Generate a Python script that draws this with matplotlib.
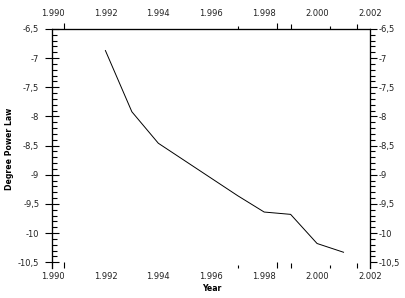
import matplotlib
matplotlib.use('Agg')
from matplotlib import pyplot as plt

# 値は画像から読み取った推定値
years = [1992, 1993, 1994, 1995, 1996, 1997, 1998, 1999, 2000, 2001]
degree = [-6.87, -7.92, -8.46, -8.76, -9.06, -9.36, -9.64, -9.68, -10.18, -10.33]

year_ticks = list(range(1990, 2003, 2))
year_labels = [f'{y:,}'.replace(',', '.') for y in year_ticks]
degree_ticks = [-6.5, -7, -7.5, -8, -8.5, -9, -9.5, -10, -10.5]
degree_labels = [f'{v:g}'.replace('.', ',') for v in degree_ticks]

# 軸上の不規則な小目盛り（位置と長さ px）
mark_pos = [1990, 1990.45, 1992, 1997, 1998.5, 1999, 2000, 2000.5, 2001.5, 2002]
mark_len = [6.5, 3.5, 6.5, 5, 3.5, 5, 6.5, 4, 3.5, 6.5]

px = 0.72  # 1px -> pt (dpi=100)
fs = 6
txt = '#222222'

fig = plt.figure(figsize=(4.06, 2.98), dpi=100)
ax = fig.add_axes([0.1293, 0.1007, 0.782, 0.802])
ax.plot(years, degree, color='black', linewidth=0.7)
ax.set_xlim(1990, 2002)
ax.set_ylim(-10.6, -6.5)

# 右と上の軸
axr = ax.twinx()
axr.set_ylim(ax.get_ylim())
axt = ax.twiny()
axt.set_xlim(ax.get_xlim())

for a in (ax, axr, axt):
  a.spines['bottom'].set_visible(False)
  for s in ('left', 'right', 'top'):
    a.spines[s].set_linewidth(0.8)

# x軸（下・上）
for a, direction, pad in ((ax, 'in', 3.2), (axt, 'out', 8.0)):
  a.set_xticks(year_ticks)
  a.set_xticklabels(year_labels)
  a.set_xticks(mark_pos, minor=True)
  a.tick_params(axis='x', which='major', length=0, pad=pad, labelsize=fs, labelcolor=txt)
  a.tick_params(axis='x', which='minor', direction=direction, width=0.8)
  for t, l in zip(a.xaxis.get_minor_ticks(), mark_len):
    t.tick1line.set_markersize(l * px)
    t.tick2line.set_markersize(l * px)

# y軸（左・右）
minor_y = [-6.5 - 0.1 * i for i in range(41)]
for a in (ax, axr):
  a.set_yticks(degree_ticks)
  a.set_yticklabels(degree_labels)
  a.set_yticks(minor_y, minor=True)
  a.tick_params(axis='y', which='both', labelsize=fs, labelcolor=txt, width=0.8)
ax.tick_params(axis='y', which='major', direction='inout', length=14 * px, pad=4.5)
ax.tick_params(axis='y', which='minor', direction='in', length=5 * px)
axr.tick_params(axis='y', which='major', direction='out', length=6.5 * px, pad=1.5)
axr.tick_params(axis='y', which='minor', direction='out', length=5 * px)

# ラベル
ax.set_xlabel('Year', fontsize=5.6, fontweight='bold')
ax.xaxis.set_label_coords(0.5, -0.068)
ax.set_ylabel('Degree Power Law', fontsize=5.6, fontweight='bold')
ax.yaxis.set_label_coords(-0.12, 0.5)

fig.savefig('out.png', dpi=100)
